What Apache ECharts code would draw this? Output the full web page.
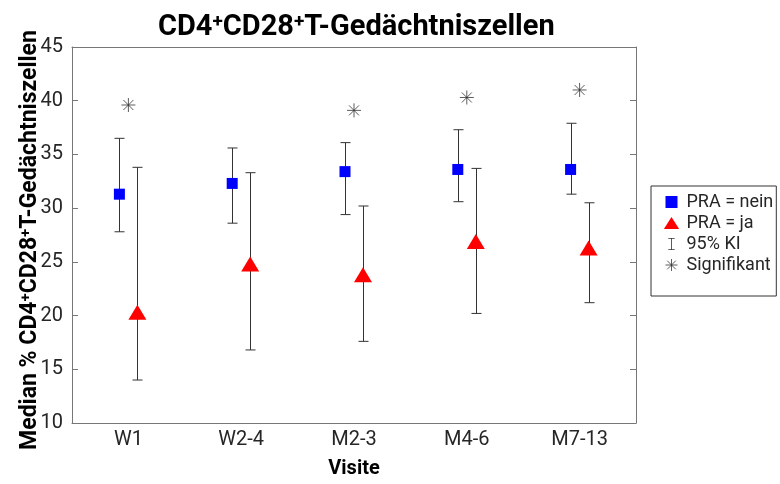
<!DOCTYPE html>
<html>
<head>
<meta charset="utf-8">
<script src="https://cdn.jsdelivr.net/npm/echarts@6/dist/echarts.min.js"></script>
<style>
  html, body { margin: 0; padding: 0; background: #fff; }
  #main { width: 780px; height: 484px; }
</style>
</head>
<body>
<div id="main"></div>
<script>
// Visiten und Werte (Median + 95% KI)
var categories = ['W1', 'W2-4', 'M2-3', 'M4-6', 'M7-13'];
var neinMedian = [31.3, 32.3, 33.4, 33.6, 33.6];
var neinLow    = [27.8, 28.6, 29.4, 30.6, 31.3];
var neinHigh   = [36.5, 35.6, 36.1, 37.3, 37.9];
var jaMedian   = [20.3, 24.8, 23.8, 26.9, 26.3];
var jaLow      = [14.0, 16.8, 17.6, 20.2, 21.2];
var jaHigh     = [33.8, 33.3, 30.2, 33.7, 30.5];
var sigCats    = ['W1', 'M2-3', 'M4-6', 'M7-13'];
var sigVals    = [39.6, 39.1, 40.3, 41.0];
var yTicks     = [10, 15, 20, 25, 30, 35, 40, 45];

var FONT = 'Roboto, "Liberation Sans", sans-serif';
var axisColor = '#777';
var textColor = '#262626';

var myChart = echarts.init(document.getElementById('main'));

function errData(lo, hi) {
    return categories.map(function (c, i) { return [i, lo[i], hi[i]]; });
}

// Fehlerbalken mit Kappen, seitlich verschoben
function errRender(off) {
    return function (params, api) {
        var p1 = api.coord([api.value(0), api.value(1)]);
        var p2 = api.coord([api.value(0), api.value(2)]);
        var x = Math.round(p1[0] + off) + 0.5;
        var hw = 5;
        var st = { stroke: '#333', lineWidth: 1 };
        return {
            type: 'group',
            children: [
                { type: 'line', shape: { x1: x, y1: p1[1], x2: x, y2: p2[1] }, style: st },
                { type: 'line', shape: { x1: x - hw, y1: p1[1], x2: x + hw, y2: p1[1] }, style: st },
                { type: 'line', shape: { x1: x - hw, y1: p2[1], x2: x + hw, y2: p2[1] }, style: st }
            ]
        };
    };
}

var supRich = function (size) {
    return {
        t: { fontFamily: FONT, fontWeight: 'bold', fontSize: size, color: '#000', verticalAlign: 'bottom' },
        sup: { fontFamily: FONT, fontWeight: 'bold', fontSize: Math.round(size * 0.65), color: '#000', verticalAlign: 'top' }
    };
};

var asterisk = 'path://M0,7L14,7M7,0L7,14M2,2L12,12M12,2L2,12';
var ibeam = 'path://M0,0H8V1H4.5V14H8V15H0V14H3.5V1H0Z';
var square = 'path://M0,0H10V10H0Z';

option = {
    backgroundColor: '#fff',
    animation: false,
    title: {
        text: '{t|CD4}{sup|+}{t|CD28}{sup|+}{t|T-Gedächtniszellen}',
        left: 153,
        top: 8,
        textStyle: { rich: supRich(29) }
    },
    legend: {
        orient: 'vertical',
        left: 651,
        top: 186,
        padding: [7, 3, 22, 12],
        itemWidth: 20,
        itemHeight: 12,
        itemGap: 3,
        itemTextGap: 10,
        borderColor: '#333',
        borderWidth: 1,
        textStyle: { fontFamily: FONT, fontSize: 18, color: textColor },
        data: [
            { name: 'PRA = nein', icon: square },
            { name: 'PRA = ja', icon: 'path://M7,0L14,11L0,11Z' },
            { name: '95% KI', icon: ibeam, itemStyle: { color: '#333' } },
            { name: 'Signifikant', icon: asterisk,
              itemStyle: { color: 'none', borderColor: '#333', borderWidth: 0.8 } }
        ]
    },
    grid: { left: 72, right: 144, top: 47, bottom: 58, containLabel: false },
    xAxis: [{
        type: 'category',
        data: categories,
        boundaryGap: true,
        name: 'Visite',
        nameLocation: 'middle',
        nameGap: 36,
        nameTextStyle: { fontFamily: FONT, fontWeight: 'bold', fontSize: 20, color: '#000' },
        axisLine: { lineStyle: { color: axisColor, width: 1 } },
        axisTick: { inside: true, alignWithLabel: true, length: 6, lineStyle: { color: axisColor } },
        axisLabel: { fontFamily: FONT, fontSize: 20, color: textColor, margin: 7 },
        splitLine: { show: false }
    }, {
        type: 'category',
        data: categories,
        position: 'top',
        boundaryGap: true,
        axisLine: { lineStyle: { color: axisColor, width: 1 } },
        axisTick: { inside: true, alignWithLabel: true, length: 6, lineStyle: { color: axisColor } },
        axisLabel: { show: false },
        splitLine: { show: false }
    }],
    yAxis: [{
        type: 'value',
        min: yTicks[0],
        max: yTicks[yTicks.length - 1],
        interval: 5,
        name: '{t|Median % CD4}{sup|+}{t|CD28}{sup|+}{t|T-Gedächtniszellen}',
        nameLocation: 'middle',
        nameRotate: 90,
        nameGap: 30,
        nameMoveOverlap: false,
        nameTextStyle: { rich: supRich(23), padding: [0, 10, 0, 0] },
        axisLine: { show: true, lineStyle: { color: axisColor, width: 1 } },
        axisTick: { show: true, inside: true, length: 6, lineStyle: { color: axisColor } },
        axisLabel: { fontFamily: FONT, fontSize: 20, color: textColor, margin: 9 },
        splitLine: { show: false }
    }, {
        type: 'value',
        position: 'right',
        min: yTicks[0],
        max: yTicks[yTicks.length - 1],
        interval: 5,
        axisLine: { show: true, lineStyle: { color: axisColor, width: 1 } },
        axisTick: { show: true, inside: true, length: 6, lineStyle: { color: axisColor } },
        axisLabel: { show: false },
        splitLine: { show: false }
    }],
    series: [
        {
            name: '95% KI',
            type: 'custom',
            renderItem: errRender(-9),
            data: errData(neinLow, neinHigh),
            itemStyle: { color: '#333' },
            z: 2
        },
        {
            name: '95% KI',
            type: 'custom',
            renderItem: errRender(9),
            data: errData(jaLow, jaHigh),
            itemStyle: { color: '#333' },
            z: 2
        },
        {
            name: 'PRA = nein',
            type: 'scatter',
            data: neinMedian,
            symbol: 'rect',
            symbolSize: 11,
            symbolOffset: [-9, 0],
            itemStyle: { color: '#0000ff', opacity: 1 },
            z: 5
        },
        {
            name: 'PRA = ja',
            type: 'scatter',
            data: jaMedian,
            symbol: 'triangle',
            symbolSize: [18, 15],
            symbolOffset: [9, 0],
            itemStyle: { color: '#ff0000', opacity: 1 },
            z: 5
        },
        {
            name: 'Signifikant',
            type: 'scatter',
            data: sigCats.map(function (c, i) { return [c, sigVals[i]]; }),
            symbol: asterisk,
            symbolSize: 14,
            itemStyle: { color: 'none', borderColor: '#333', borderWidth: 0.8, opacity: 1 },
            z: 5
        }
    ]
};

if (option && typeof option === 'object') {
    myChart.setOption(option, true);
}
</script>
</body>
</html>
